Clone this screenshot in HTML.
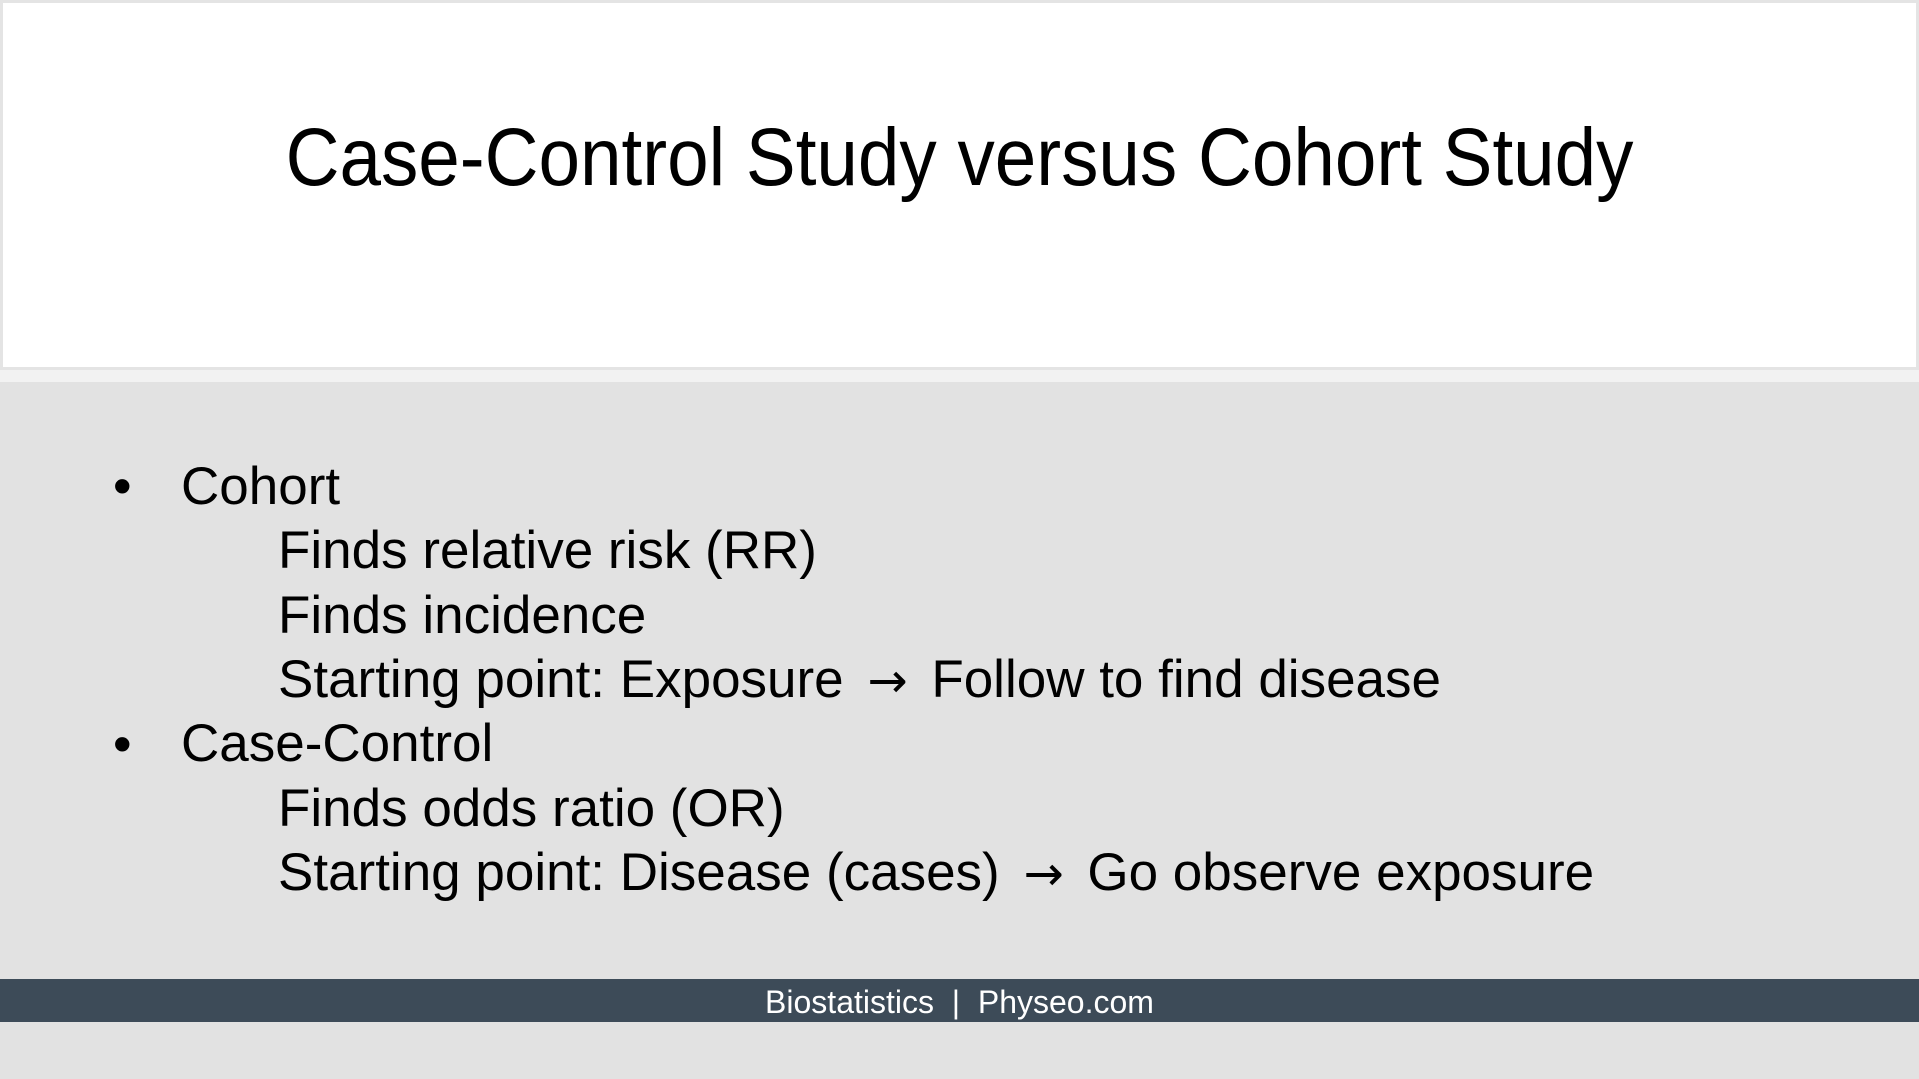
<!DOCTYPE html>
<html><head><meta charset="utf-8"><style>
html,body{margin:0;padding:0}
body{width:1919px;height:1079px;background:#e2e2e2;position:relative;overflow:hidden;font-family:"Liberation Sans",Arial,sans-serif;color:#000}
.t{position:absolute;line-height:1;white-space:nowrap}
.ar{font-family:'DejaVu Sans',sans-serif;font-size:48px;padding:0 9px}
</style></head><body>
<div style="position:absolute;left:0;top:0;width:1913px;height:364px;background:#fff;border:3px solid #e4e4e4;"></div>
<div style="position:absolute;left:0;top:370px;width:1919px;height:12px;background:#f2f2f2"></div>
<div class="t" style="left:0;width:1919px;text-align:center;top:117px;font-size:82px;transform:scaleX(0.91);transform-origin:960px 0">Case-Control Study versus Cohort Study</div>
<div class="t" style="left:113px;top:460px;font-size:53px">•</div>
<div class="t" style="left:181px;top:460px;font-size:53px">Cohort</div>
<div class="t" style="left:278px;top:524px;font-size:53px">Finds relative risk (RR)</div>
<div class="t" style="left:278px;top:589px;font-size:53px">Finds incidence</div>
<div class="t" style="left:278px;top:653px;font-size:53px">Starting point: Exposure <span class="ar">→</span> Follow to find disease</div>
<div class="t" style="left:113px;top:718px;font-size:53px">•</div>
<div class="t" style="left:181px;top:717px;font-size:53px">Case-Control</div>
<div class="t" style="left:278px;top:782px;font-size:53px">Finds odds ratio (OR)</div>
<div class="t" style="left:278px;top:846px;font-size:53px">Starting point: Disease (cases) <span class="ar">→</span> Go observe exposure</div>
<div style="position:absolute;left:0;top:979px;width:1919px;height:43px;background:#3d4b58"></div>
<div class="t" style="left:0;width:1919px;text-align:center;top:986px;font-size:32px;color:#fff">Biostatistics &nbsp;|&nbsp; Physeo.com</div>
</body></html>
